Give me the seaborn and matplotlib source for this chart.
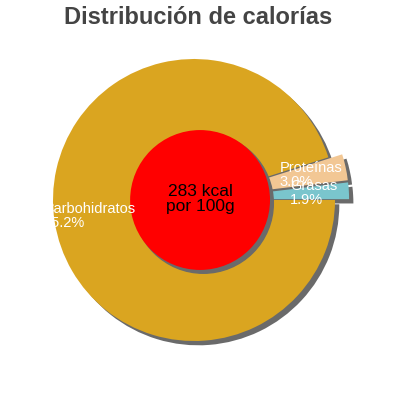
import matplotlib
matplotlib.use("Agg")
import matplotlib.pyplot as plt
from matplotlib.patches import Circle, Shadow
import seaborn as sns

# wedges listed counterclockwise from 3 o'clock
nutrientes = ["Grasas", "Proteínas", "Carbohidratos"]
porcentajes = [1.9, 3.0, 95.2]
colores = ["#7AC5CD", "#F2C794", "#DAA520"]
separacion = [0.1, 0.1, 0.0]
kcal_texto = "283 kcal\npor 100g"
titulo = "Distribución de calorías"

sns.set_theme(style="white")
plt.rcParams["font.family"] = ["Liberation Sans", "DejaVu Sans"]

fig = plt.figure(figsize=(4, 4), dpi=100)
ax = fig.add_axes([0, 0, 1, 1])

etiquetas = [f"{n}\n{p:.1f}%" for n, p in zip(nutrientes, porcentajes)]
sombra = {"ox": 0.022, "oy": -0.022, "facecolor": "#6a6a6a",
          "edgecolor": "#6a6a6a", "alpha": 1}
wedges, textos = ax.pie(porcentajes, labels=etiquetas, colors=colores,
                        explode=separacion, startangle=0, counterclock=True,
                        labeldistance=0.75, shadow=sombra,
                        wedgeprops={"linewidth": 0},
                        textprops={"color": "white", "fontsize": 10.5})
for t in textos:
    t.set_horizontalalignment("center")
    t.set_verticalalignment("center")
    t.set_multialignment("left")
    t.set_linespacing(1.0)
    t.set_zorder(10)

# red centre disc
centro = Circle((0.043, 0), 0.496, facecolor="#FF0000", edgecolor="none", zorder=5)
ax.add_patch(Shadow(centro, 0.017, -0.017, facecolor="#6a6a6a",
                    edgecolor="#6a6a6a", alpha=1))
ax.add_patch(centro)
ax.text(0.043, 0.005, kcal_texto, ha="center", va="center", fontsize=12.5,
        color="black", zorder=11, linespacing=1.0)

ax.set_aspect("equal")
ax.set_xlim(-194 / 141, 206 / 141)
ax.set_ylim(-200 / 141, 200 / 141)
ax.axis("off")

fig.text(0.495, 1 - 18 / 400, titulo, ha="center", va="center",
         fontsize=17, fontweight="bold", color="#444444")

fig.savefig("out.png", dpi=100)
